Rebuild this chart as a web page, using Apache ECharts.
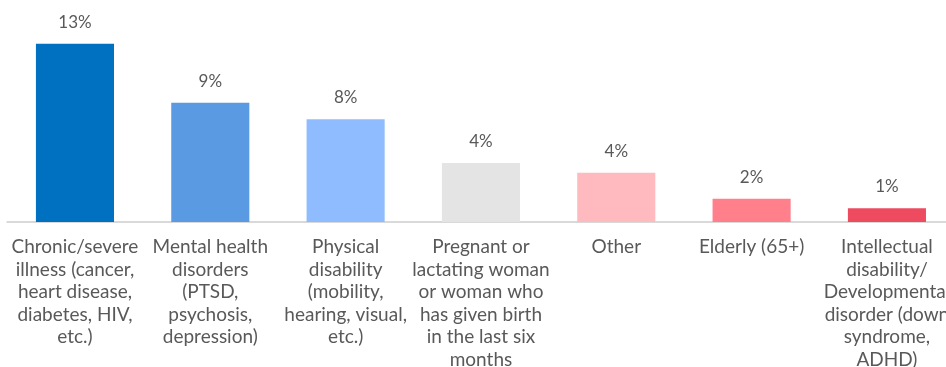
<!DOCTYPE html>
<html>
<head>
<meta charset="utf-8">
<script src="https://cdn.jsdelivr.net/npm/echarts@6/dist/echarts.min.js"></script>
<style>
  html, body { margin: 0; padding: 0; background: #fff; overflow: hidden; }
  #chart { width: 962px; height: 367px; }
</style>
</head>
<body>
<div id="chart"></div>
<script>
// Share of respondents by vulnerability category (%)
const categories = [
  'Chronic/severe\nillness (cancer,\nheart disease,\ndiabetes, HIV,\netc.)',
  'Mental health\ndisorders\n(PTSD,\npsychosis,\ndepression)',
  'Physical\ndisability\n(mobility,\nhearing, visual,\netc.)',
  'Pregnant or\nlactating woman\nor woman who\nhas given birth\nin the last six\nmonths',
  'Other',
  'Elderly (65+)',
  'Intellectual\ndisability/\nDevelopmental\ndisorder (down\nsyndrome,\nADHD)'
];
const values = [13.0, 8.7, 7.5, 4.3, 3.6, 1.7, 1.0];
const barColors = ['#0070c0', '#5a9ae2', '#8fbcff', '#e4e4e4', '#ffbac0', '#ff808b', '#ee4b60'];

const chart = echarts.init(document.getElementById('chart'), null, { renderer: 'canvas' });
chart.setOption({
  animation: false,
  grid: {
    left: 7.3, width: 947.3, top: 30, bottom: 145,
    containLabel: false,
    outerBoundsMode: 'none'
  },
  xAxis: {
    type: 'category',
    data: categories,
    axisTick: { show: false },
    axisLine: { lineStyle: { color: '#d9d9d9', width: 2 } },
    axisLabel: {
      interval: 0,
      margin: 14,
      color: '#595959',
      fontFamily: 'Lato',
      fontSize: 19,
      lineHeight: 22.5,
      align: 'center',
      verticalAlign: 'top'
    }
  },
  yAxis: {
    type: 'value',
    min: 0,
    max: 14,
    show: false,
    splitLine: { show: false }
  },
  series: [{
    type: 'bar',
    data: values.map((v, i) => ({ value: v, itemStyle: { color: barColors[i] } })),
    barWidth: '57.7%',
    label: {
      show: true,
      position: 'top',
      distance: 13,
      color: '#595959',
      fontFamily: 'Lato',
      fontSize: 17,
      formatter: p => Math.round(p.value) + '%'
    }
  }]
});
</script>
</body>
</html>
